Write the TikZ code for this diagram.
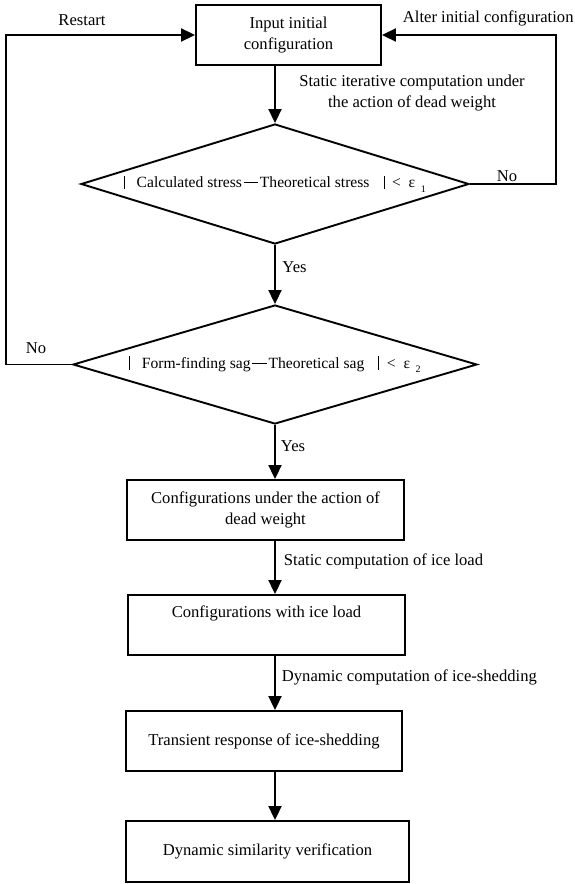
\documentclass[tikz,border=0pt]{standalone}
\usepackage{fontspec}
\setmainfont{Liberation Serif}
\usetikzlibrary{arrows.meta,shapes.geometric}
\newcommand{\dbar}{\rule[-0.1em]{0.05em}{0.85em}}
\newcommand{\dminus}{\hspace{0.1em}\rule[0.3em]{0.95em}{0.05em}\hspace{0.1em}}
\newcommand{\epssub}[1]{ε\hspace{0.35em}\raisebox{-0.3em}{\fontsize{10}{10}\selectfont #1}}
\begin{document}
\begin{tikzpicture}[x=1pt,y=-1pt,
  line width=1.9pt,
  every node/.style={font=\fontsize{16.6}{20.5}\selectfont},
  procbox/.style={draw, rectangle, inner sep=0pt, align=center, line width=1.9pt},
  decision/.style={draw, diamond, inner sep=0pt, line width=1.9pt, font=\fontsize{15.6}{18}\selectfont},
  arr/.style={-{Triangle[length=14pt,width=13pt]}, line width=1.9pt},
  lbl/.style={inner sep=0pt}]
\useasboundingbox (0,0) rectangle (574,884);

% main nodes
\node[procbox, minimum width=185pt, minimum height=60pt] (in) at (288.5,35) {Input initial\\configuration};
\node[decision, aspect=3.233, minimum width=388pt, minimum height=120pt] (d1) at (275,184)
  {\dbar\hspace{0.75em}Calculated stress\dminus Theoretical stress\hspace{0.9em}\dbar\hspace{0.5em}<\hspace{0.5em}\epssub{1}};
\node[decision, aspect=3.395, minimum width=404pt, minimum height=119pt] (d2) at (275,364.5)
  {\dbar\hspace{0.75em}Form-finding sag\dminus Theoretical sag\hspace{0.9em}\dbar\hspace{0.5em}<\hspace{0.5em}\epssub{2}};
\node[procbox, minimum width=277pt, minimum height=60pt] (b2) at (265.5,510) {Configurations under the action of\\dead weight};
\node[procbox, minimum width=277pt, minimum height=60pt] (b3) at (266.5,625) {Configurations with ice load\\\strut};
\node[procbox, minimum width=276pt, minimum height=60pt] (b4) at (264,741) {Transient response of ice-shedding};
\node[procbox, minimum width=283pt, minimum height=61pt] (b5) at (267.5,851.5) {Dynamic similarity verification};

% connectors
\draw[arr] (in.south -| d1.north) -- (d1.north);
\draw[arr] (d1.south) -- (d2.north);
\draw[arr] (d2.south) -- (b2.north -| d2.south);
\draw[arr] (b2.south -| d2.south) -- (b3.north -| d2.south);
\draw[arr] (b3.south -| d2.south) -- (b4.north -| d2.south);
\draw[arr] (b4.south -| d2.south) -- (b5.north -| d2.south);

\coordinate (rc) at (556,35);
\coordinate (lc) at (6,35);
\draw[arr] (d1.east) -| (rc) -- (in.east);
\draw[arr] (d2.west) -| (lc) -- (in.west);

% labels
\node[lbl] (restart) at (82,20) {Restart};
\node[lbl, anchor=west] (alter) at (402,18) {Alter initial configuration};
\node[lbl, align=center] (static) at (412,93) {Static iterative computation under\\the action of dead weight};
\node[lbl] (no1) at (507,176) {No};
\node[lbl] (no2) at (36,348) {No};
\node[lbl] (yes1) at (294.5,267) {Yes};
\node[lbl] (yes2) at (293,446) {Yes};
\node[lbl, anchor=west] (sc) at (283,561) {Static computation of ice load};
\node[lbl, anchor=west] (dc) at (281,677) {Dynamic computation of ice-shedding};
\end{tikzpicture}
\end{document}
